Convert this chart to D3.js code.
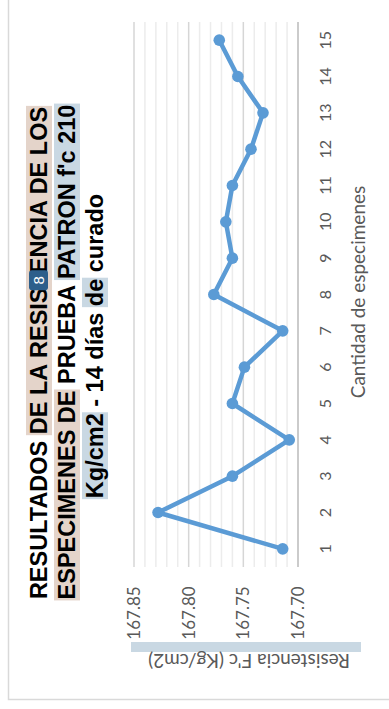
<!DOCTYPE html>
<html><head><meta charset="utf-8">
<script src="https://cdn.jsdelivr.net/npm/d3@7"></script>
<style>html,body{margin:0;padding:0;background:#fff;overflow:hidden}</style>
</head><body><svg id="c" width="389" height="709"></svg>
<script>
// ---- data ----
const categories = ["1","2","3","4","5","6","7","8","9","10","11","12","13","14","15"];
const resistencia = [167.714, 167.828, 167.760, 167.708, 167.760, 167.749, 167.714, 167.777, 167.760, 167.766, 167.760, 167.743, 167.732, 167.755, 167.772];
const valueTicks = [167.70, 167.75, 167.80, 167.85];
const valueDomain = [167.70, 167.85];
const xAxisTitle = "Cantidad de especimenes";
const yAxisTitle = "Resistencia F'c (Kg/cm2)";
const TAN = "#e4d4ca", BLUE = "#c9d8e3";
const titleLine1 = [["RESULTADOS ", null], ["DE LA RESISTENCIA DE LOS", TAN]];
const titleLine2 = [["ESPECIMENES DE", TAN], [" PRUEBA ", null], ["PATRON f'c 210", BLUE]];
const titleLine3 = [["Kg/cm2", BLUE], [" - 14 días ", null], ["de", BLUE], [" curado", null]];
const badgeText = "8";

(function(){
const svg = d3.select("#c");
const gray = "#595959";
const font = "Lato, 'Open Sans', sans-serif";

svg.append("rect").attr("x", 8.5).attr("y", -10).attr("width", 400).attr("height", 709.5)
  .attr("fill", "#fff").attr("stroke", "#d9d9d9").attr("stroke-width", 1.5);

const plotTop = 22, plotBottom = 567;
const x = d3.scaleLinear().domain(valueDomain).range([298, 134]);
const y = d3.scalePoint().domain(categories).range([plotBottom, plotTop]).padding(0.5);

// gridlines
svg.append("g").selectAll("line").data(x.ticks(15)).join("line")
  .attr("x1", d => x(d)).attr("x2", d => x(d)).attr("y1", plotTop).attr("y2", plotBottom)
  .attr("stroke", d => Math.round(d * 100) % 5 === 0 ? "#d6d6d6" : "#ececec")
  .attr("stroke-width", 1.5);

// category axis line
svg.append("line").attr("x1", x(valueDomain[0])).attr("x2", x(valueDomain[0]))
  .attr("y1", plotTop).attr("y2", plotBottom).attr("stroke", "#c4c4c4").attr("stroke-width", 1.5);

// category labels
svg.append("g").selectAll("text").data(categories).join("text")
  .attr("transform", d => `translate(325,${y(d)}) rotate(-90)`)
  .attr("text-anchor", "middle").attr("dy", "0.36em")
  .attr("font-family", font).attr("font-size", 16).attr("fill", gray).text(d => d);

// value labels
const fmt = d3.format(".2f");
svg.append("g").selectAll("text").data(valueTicks).join("text")
  .attr("transform", d => `translate(${x(d)},613) rotate(-90)`)
  .attr("text-anchor", "middle").attr("dy", "0.36em")
  .attr("font-family", font).attr("font-size", 17).attr("fill", gray).text(d => fmt(d));

// axis titles
svg.append("text").attr("transform", "translate(359,292) rotate(-90)")
  .attr("text-anchor", "middle").attr("dy", "0.32em")
  .attr("font-family", font).attr("font-size", 19).attr("fill", gray).text(xAxisTitle);

svg.append("rect").attr("x", 131).attr("y", 642).attr("width", 230).attr("height", 10).attr("fill", BLUE);
svg.append("text").attr("transform", "translate(249,660) rotate(180)")
  .attr("text-anchor", "middle").attr("dy", "0.34em")
  .attr("font-family", font).attr("font-size", 19).attr("fill", gray).text(yAxisTitle);

// series
const pts = categories.map((c, i) => ({c, v: resistencia[i]}));
svg.append("path").datum(pts)
  .attr("d", d3.line().x(d => x(d.v)).y(d => y(d.c)))
  .attr("fill", "none").attr("stroke", "#5b9bd5").attr("stroke-width", 4.5)
  .attr("stroke-linejoin", "round").attr("stroke-linecap", "round");
svg.append("g").selectAll("circle").data(pts).join("circle")
  .attr("cx", d => x(d.v)).attr("cy", d => y(d.c)).attr("r", 5.8).attr("fill", "#5b9bd5");

// title (rotated)
const titleFont = "'Liberation Sans', Arial, sans-serif";
const titleSize = 23.5;
function drawLine(segs, cx, cy) {
  const g = svg.append("g").attr("transform", `translate(${cx},${cy}) rotate(-90)`);
  const t = g.append("text").attr("font-family", titleFont).attr("font-size", titleSize)
    .attr("font-weight", "bold").attr("fill", "#000").attr("y", titleSize * 0.36);
  segs.forEach(s => t.append("tspan").text(s[0]));
  const node = t.node();
  const total = node.getComputedTextLength();
  const x0 = -total / 2;
  t.attr("x", x0);
  let off = 0;
  segs.forEach(s => {
    const n = s[0].length;
    const st = x0 + (off > 0 ? node.getSubStringLength(0, off) : 0);
    const w = node.getSubStringLength(off, n);
    if (s[1]) g.insert("rect", "text").attr("x", st - 1).attr("y", -13).attr("width", w + 2)
      .attr("height", 26).attr("fill", s[1]);
    off += n;
  });
  return {g, node, x0};
}
const L1 = drawLine(titleLine1, 39, 353);
// badge over the "T" of RESISTENCIA
const full = titleLine1.map(s => s[0]).join("");
const idx = full.indexOf("RESIS") + 5;
const st = L1.x0 + L1.node.getSubStringLength(0, idx);
const w = L1.node.getSubStringLength(idx, 1);
const cxl = st + w / 2;
L1.g.append("rect").attr("x", cxl - 10).attr("y", -10).attr("width", 20).attr("height", 19)
  .attr("rx", 3).attr("fill", "#2d5f8b");
L1.g.append("text").attr("x", cxl).attr("y", 0).attr("dy", "0.36em").attr("text-anchor", "middle")
  .attr("font-family", titleFont).attr("font-size", 15).attr("fill", "#fff").text(badgeText);
drawLine(titleLine2, 67, 352);
drawLine(titleLine3, 95, 346);
})();
</script></body></html>
